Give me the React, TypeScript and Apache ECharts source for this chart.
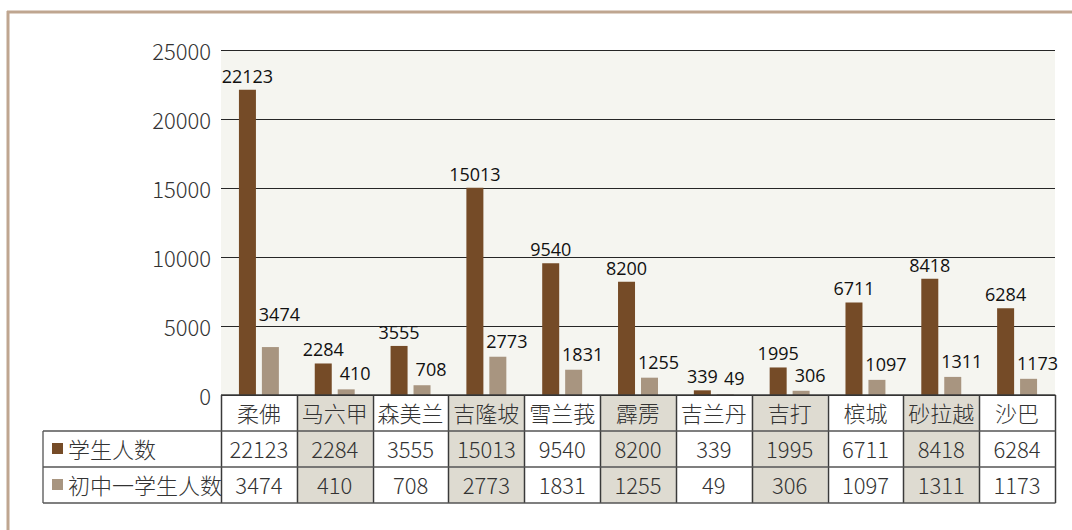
import React, { useEffect, useRef } from "react";
import * as echarts from "echarts";

const categories = ["柔佛", "马六甲", "森美兰", "吉隆坡", "雪兰莪", "霹雳", "吉兰丹", "吉打", "槟城", "砂拉越", "沙巴"];
const studentCounts = [22123, 2284, 3555, 15013, 9540, 8200, 339, 1995, 6711, 8418, 6284];
const juniorCounts = [3474, 410, 708, 2773, 1831, 1255, 49, 306, 1097, 1311, 1173];
const seriesNames = ["学生人数", "初中一学生人数"];
const yTicks = { min: 0, max: 25000, interval: 5000 };

const W = 1072;
const H = 530;
const GRID_LEFT = 221;
const GRID_RIGHT_X = 1055;
const GRID_TOP = 50;
const AXIS_Y = 395;
const ROW_H = 36;
const TABLE_LEFT = 43;

const DARK = "#754b27";
const LIGHT = "#a89580";
const SHADE = "#dedbd1";
const LINE = "#3a3a3a";
const CJK = "'Noto Sans CJK SC', 'Noto Sans', sans-serif";
const LABEL_FONT = "'Open Sans', sans-serif";

// label placement of the second series (as placed in the original)
const juniorLabelOffset: [number, number] = [9, 0];
const juniorLabelNudge: Record<number, [number, number]> = { 0: [9, -17] };

export default function App() {
  const ref = useRef<HTMLDivElement>(null);
  useEffect(() => {
    if (!ref.current) return;
    const chart = echarts.init(ref.current, null, { renderer: "svg" });
    const n = categories.length;
    const colW = (GRID_RIGHT_X - GRID_LEFT) / n;
    const tableBottom = AXIS_Y + ROW_H * 3;
    const colors = [DARK, LIGHT];

    const graphics: any[] = [];
    // frame
    graphics.push({ type: "line", z: 20, shape: { x1: 7, y1: 12, x2: W, y2: 12 }, style: { stroke: "#bfa690", lineWidth: 3 } });
    graphics.push({ type: "line", z: 20, shape: { x1: 8, y1: 11, x2: 8, y2: H }, style: { stroke: "#bfa690", lineWidth: 3 } });
    // shaded columns
    categories.forEach((_, i) => {
      if (i % 2 === 1) {
        graphics.push({
          type: "rect", z: 0,
          shape: { x: GRID_LEFT + i * colW, y: AXIS_Y, width: colW, height: ROW_H * 3 },
          style: { fill: SHADE },
        });
      }
    });
    // vertical lines
    for (let i = 0; i <= n; i++) {
      const x = Math.round(GRID_LEFT + i * colW) + 0.5;
      graphics.push({ type: "line", z: 10, shape: { x1: x, y1: AXIS_Y, x2: x, y2: tableBottom }, style: { stroke: LINE, lineWidth: 1.5 } });
    }
    graphics.push({ type: "line", z: 10, shape: { x1: TABLE_LEFT, y1: AXIS_Y + ROW_H, x2: TABLE_LEFT, y2: tableBottom }, style: { stroke: "#6a6a6a", lineWidth: 1.5 } });
    // horizontal lines
    for (let r = 0; r <= 3; r++) {
      const y = AXIS_Y + r * ROW_H;
      graphics.push({
        type: "line", z: 10,
        shape: { x1: r === 0 ? GRID_LEFT : TABLE_LEFT, y1: y, x2: GRID_RIGHT_X + 0.5, y2: y },
        style: { stroke: r === 0 ? LINE : "#555", lineWidth: 1.5 },
      });
    }
    // legend keys in the table
    seriesNames.forEach((name, r) => {
      const cy = AXIS_Y + ROW_H * (r + 1.5);
      graphics.push({ type: "rect", z: 12, shape: { x: 52, y: cy - 6, width: 11, height: 11 }, style: { fill: colors[r] } });
      graphics.push({
        type: "text", z: 12, x: 68, y: cy - 1,
        style: { text: name, fontSize: 22, fontWeight: 300, fontFamily: CJK, fill: "#333", align: "left", verticalAlign: "middle" },
      });
    });

    const tableAxis = (data: (string | number)[], margin: number) => ({
      type: "category",
      position: "bottom",
      data: data.map(String),
      z: 15,
      axisLine: { show: false },
      axisTick: { show: false },
      splitLine: { show: false },
      axisLabel: {
        interval: 0,
        margin,
        verticalAlign: "middle",
        fontSize: 22,
        fontWeight: 300,
        color: "#333",
        fontFamily: CJK,
      },
    });

    const barLabel = { show: true, position: "top", distance: 5, fontSize: 18, color: "#111", fontFamily: LABEL_FONT };

    chart.setOption({
      animation: false,
      backgroundColor: "#ffffff",
      textStyle: { fontFamily: CJK },
      graphic: graphics,
      grid: {
        left: GRID_LEFT,
        right: W - GRID_RIGHT_X,
        top: GRID_TOP,
        bottom: H - AXIS_Y,
        show: true,
        backgroundColor: "#f5f5f0",
        borderWidth: 0,
        containLabel: false,
      },
      xAxis: [
        tableAxis(categories, ROW_H / 2 - 1),
        tableAxis(studentCounts, ROW_H * 1.5 - 1),
        tableAxis(juniorCounts, ROW_H * 2.5 - 1),
      ],
      yAxis: {
        type: "value",
        min: yTicks.min,
        max: yTicks.max,
        interval: yTicks.interval,
        axisLine: { show: false },
        axisTick: { show: false },
        axisLabel: { fontSize: 22, fontWeight: 300, color: "#333", margin: 10, fontFamily: CJK, formatter: (v: number) => String(v) },
        splitLine: { lineStyle: { color: "#262626", width: 1 } },
      },
      series: [
        {
          name: seriesNames[0],
          type: "bar",
          xAxisIndex: 0,
          data: studentCounts,
          barWidth: 17,
          barGap: "35%",
          itemStyle: { color: DARK },
          label: barLabel,
          z: 3,
        },
        {
          name: seriesNames[1],
          type: "bar",
          xAxisIndex: 0,
          data: juniorCounts.map((v, i) => (juniorLabelNudge[i] ? { value: v, label: { offset: juniorLabelNudge[i] } } : v)),
          barWidth: 17,
          itemStyle: { color: LIGHT },
          label: { ...barLabel, distance: 7, offset: juniorLabelOffset },
          z: 3,
        },
      ],
    });
    return () => chart.dispose();
  }, []);
  return (
    <div
      ref={ref}
      style={{ position: "fixed", left: 0, top: 0, width: W, height: H, background: "#fff" }}
    />
  );
}
